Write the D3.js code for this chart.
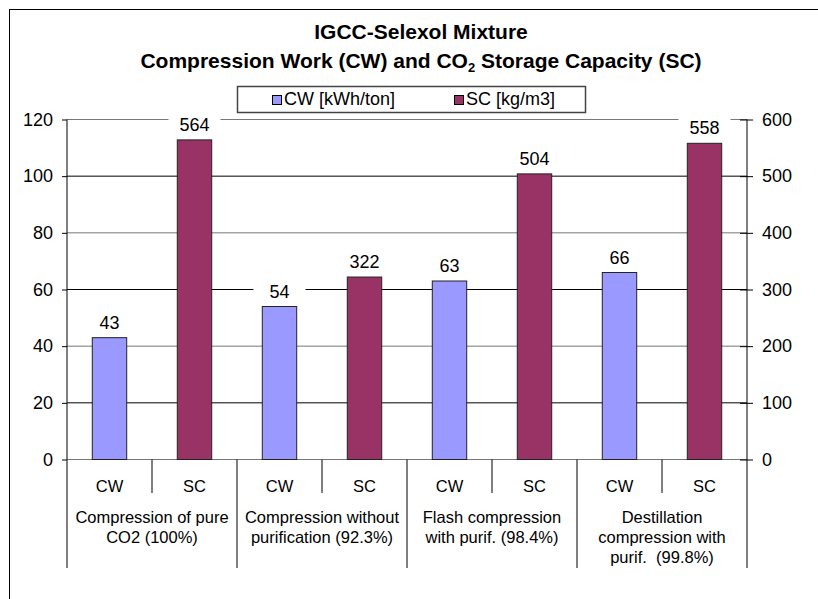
<!DOCTYPE html>
<html>
<head>
<meta charset="utf-8">
<script src="https://cdn.jsdelivr.net/npm/d3@7"></script>
<style>
  body { margin: 0; background: #fff; }
  svg { font-family: "Liberation Sans", Arial, sans-serif; }
</style>
</head>
<body>
<div id="chart"></div>
<script>
// chart data
const groupLabels = [
    ['Compression of pure', 'CO2 (100%)'],
    ['Compression without', 'purification (92.3%)'],
    ['Flash compression', 'with purif. (98.4%)'],
    ['Destillation', 'compression with', 'purif.  (99.8%)']
]
const subLabels = ['CW', 'SC']
const cwValues = [43, 54, 63, 66]
const scValues = [564, 322, 504, 558]
const leftTicks = [0, 20, 40, 60, 80, 100, 120]
const rightTicks = [0, 100, 200, 300, 400, 500, 600]
const seriesNames = ['CW [kWh/ton]', 'SC [kg/m3]']
const colors = ['#9999FF', '#993366']

const width = 818
const height = 599
const plot = { left: 67, right: 747, top: 119.5, bottom: 459.5 }

const svg = d3.select('#chart').append('svg')
svg.attr('width', width)
svg.attr('height', height)

// outer frame
svg.append('rect')
    .attr('x', 9.5).attr('y', 9.5)
    .attr('width', 830).attr('height', 620)
    .attr('fill', 'none').attr('stroke', '#000')

// title
const title = svg.append('g').attr('font-weight', 'bold').attr('font-size', '21px')
    .attr('text-anchor', 'middle')
title.append('text').attr('x', 421).attr('y', 39).text('IGCC-Selexol Mixture')
const t2 = title.append('text').attr('x', 421).attr('y', 68)
t2.append('tspan').text('Compression Work (CW) and CO')
t2.append('tspan').attr('font-size', '13px').attr('dy', 4).text('2')
t2.append('tspan').attr('dy', -4).text(' Storage Capacity (SC)')

// scales
const x0 = d3.scaleBand().domain(d3.range(groupLabels.length)).range([plot.left, plot.right])
const x1 = d3.scaleBand().domain(subLabels).range([0, x0.bandwidth()])
const yLeft = d3.scaleLinear().domain([0, 120]).range([plot.bottom, plot.top])
const yRight = d3.scaleLinear().domain([0, 600]).range([plot.bottom, plot.top])
const barW = x1.bandwidth() * 0.405

// gridlines
svg.append('g')
    .selectAll('line')
    .data(leftTicks)
    .enter()
    .append('line')
    .attr('x1', plot.left).attr('x2', plot.right)
    .attr('y1', (d) => yLeft(d)).attr('y2', (d) => yLeft(d))
    .attr('stroke', (d, i) => (i % 2 === 0 ? '#777' : '#000'))

// axes
const leftAxis = svg.append('g')
    .attr('transform', 'translate(' + plot.left + ',0)')
    .call(d3.axisLeft(yLeft).tickValues(leftTicks).tickSize(5).tickPadding(9))
const rightAxis = svg.append('g')
    .attr('transform', 'translate(' + plot.right + ',0)')
    .call(d3.axisRight(yRight).tickValues(rightTicks).tickSize(6).tickPadding(9))
rightAxis.selectAll('.tick line').attr('x1', -7)
for (const ax of [leftAxis, rightAxis]) {
    ax.select('.domain').remove()
    ax.selectAll('.tick line').attr('stroke', '#000')
    ax.selectAll('text').attr('font-size', '18px').attr('fill', '#000')
        .attr('font-family', '"Liberation Sans", Arial, sans-serif')
}
svg.append('line')
    .attr('x1', plot.left).attr('x2', plot.left)
    .attr('y1', plot.top).attr('y2', plot.bottom).attr('stroke', '#000')
svg.append('line')
    .attr('x1', plot.right).attr('x2', plot.right)
    .attr('y1', plot.top).attr('y2', plot.bottom).attr('stroke', '#000')

// bars
const bars = []
groupLabels.forEach((g, i) => {
    bars.push({ group: i, sub: 'CW', value: cwValues[i], y: yLeft(cwValues[i]), s: 0 })
    bars.push({ group: i, sub: 'SC', value: scValues[i], y: yRight(scValues[i]), s: 1 })
})

svg.append('g')
    .selectAll('rect')
    .data(bars)
    .enter()
    .append('rect')
    .attr('x', (d) => x0(d.group) + x1(d.sub) + (x1.bandwidth() - barW) / 2)
    .attr('width', barW)
    .attr('y', (d) => d.y)
    .attr('height', (d) => plot.bottom - d.y)
    .attr('fill', (d) => colors[d.s])
    .attr('stroke', '#222')
    .attr('stroke-width', 1)

// data labels with white background
const labels = svg.append('g')
    .selectAll('g')
    .data(bars)
    .enter()
    .append('g')
    .attr('transform', (d) => 'translate(' + (x0(d.group) + x1(d.sub) + x1.bandwidth() / 2) + ',' + (d.y - 9) + ')')
labels.append('rect')
    .attr('x', -26).attr('y', -17).attr('width', 52).attr('height', 22)
    .attr('fill', '#fff')
labels.append('text')
    .attr('text-anchor', 'middle')
    .attr('font-size', '18px')
    .text((d) => d.value)

// category axis
const cat = svg.append('g')
bars.forEach((d) => {
    const cx = x0(d.group) + x1(d.sub)
    cat.append('text')
        .attr('x', cx + x1.bandwidth() / 2).attr('y', 492)
        .attr('text-anchor', 'middle').attr('font-size', '16.5px')
        .text(d.sub)
    if (d.sub === 'SC') {
        cat.append('line')
            .attr('x1', cx).attr('x2', cx)
            .attr('y1', plot.bottom).attr('y2', 493).attr('stroke', '#000')
    }
})
d3.range(groupLabels.length + 1).forEach((i) => {
    const gx = i < groupLabels.length ? x0(i) : plot.right
    cat.append('line')
        .attr('x1', gx).attr('x2', gx)
        .attr('y1', plot.bottom).attr('y2', 568).attr('stroke', '#000')
})
groupLabels.forEach((lines, i) => {
    const t = cat.append('text')
        .attr('text-anchor', 'middle').attr('font-size', '16.5px')
    lines.forEach((l, k) => {
        t.append('tspan')
            .attr('x', x0(i) + x0.bandwidth() / 2)
            .attr('y', 523 + k * 20)
            .attr('xml:space', 'preserve')
            .text(l)
    })
})

// legend
const legend = svg.append('g')
legend.append('rect')
    .attr('x', 237.5).attr('y', 86.5).attr('width', 348).attr('height', 26)
    .attr('fill', '#fff').attr('stroke', '#444').attr('stroke-width', 1.5)
const legX = [272, 454]
seriesNames.forEach((name, i) => {
    legend.append('rect')
        .attr('x', legX[i] + 0.5).attr('y', 95.5).attr('width', 9).attr('height', 9)
        .attr('fill', colors[i]).attr('stroke', '#000')
    legend.append('text')
        .attr('x', legX[i] + 12).attr('y', 105)
        .attr('font-size', '18px')
        .text(name)
})
</script>
</body>
</html>
